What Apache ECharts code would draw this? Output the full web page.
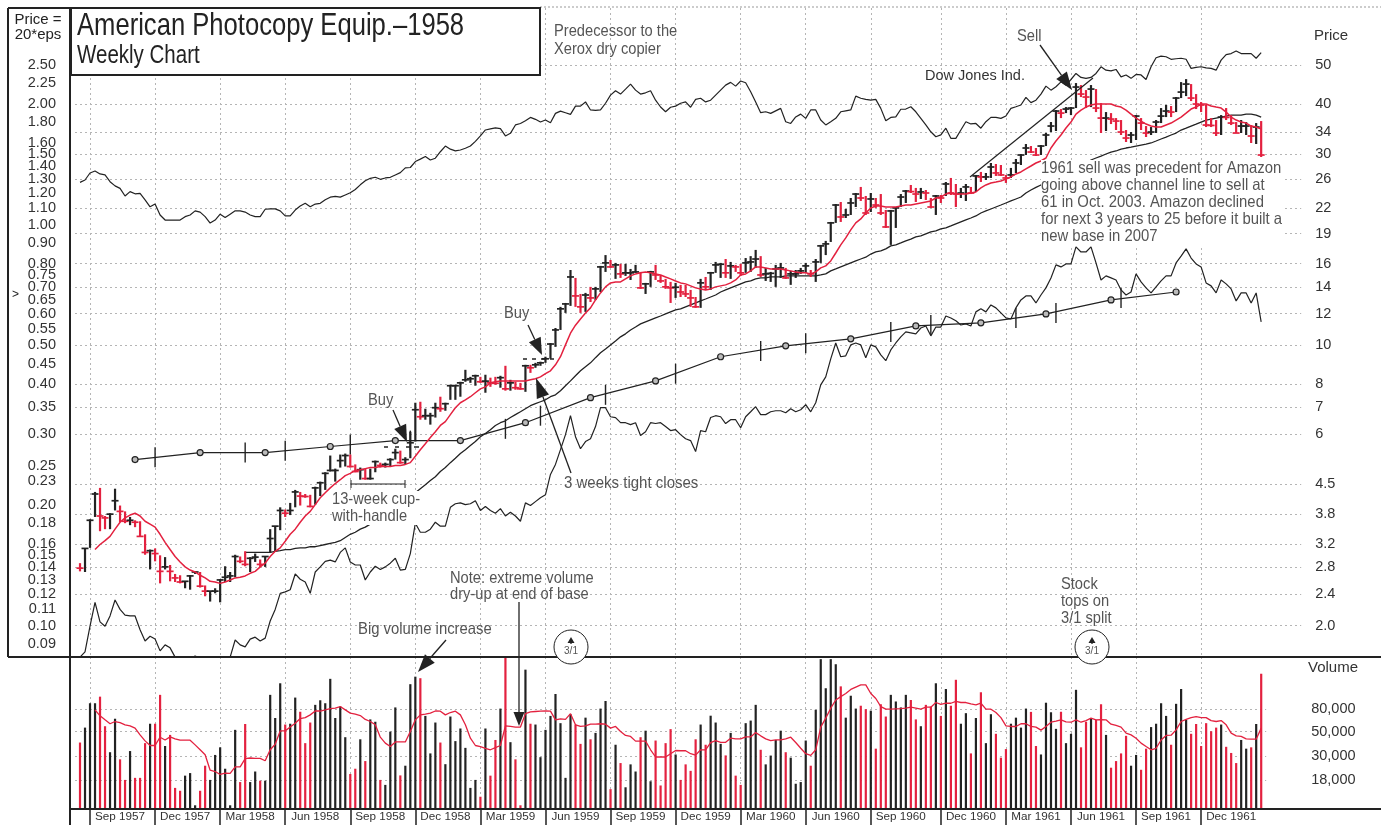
<!DOCTYPE html>
<html>
<head>
<meta charset="utf-8">
<title>American Photocopy Equip. 1958</title>
<script src="https://cdn.jsdelivr.net/npm/echarts@6/dist/echarts.min.js"></script>
<style>
  html, body { margin: 0; padding: 0; background: #fff; }
  #chart { width: 1381px; height: 825px; }
</style>
</head>
<body>
<div id="chart"></div>
<script>
// ---------------- data ----------------

// weekly bars, in price (price = 20*eps)
const highs = [
  2.83,3.08,3.64,4.26,4.36,3.71,3.77,4.34,3.94,3.81,
  3.69,3.62,3.60,3.34,3.06,3.08,2.96,2.93,2.80,2.66,
  2.64,2.54,2.64,2.70,2.69,2.49,2.41,2.45,2.58,2.78,
  2.69,2.97,2.94,3.03,2.93,2.99,2.89,2.94,3.44,3.50,
  3.90,3.85,4.00,4.31,4.26,4.21,4.19,4.39,4.52,4.77,
  5.25,4.87,5.28,5.31,5.28,4.99,4.90,4.87,4.87,5.10,
  5.04,5.04,5.17,5.46,5.40,5.20,6.02,7.11,7.15,6.87,
  6.71,7.11,7.36,7.11,7.88,7.88,8.02,8.59,8.25,8.35,
  8.25,8.35,8.21,8.25,8.30,8.79,8.11,8.02,7.97,8.84,
  8.84,8.94,9.00,9.26,10.02,10.92,12.33,12.61,15.24,14.56,
  13.28,13.36,13.83,13.83,15.60,16.6,16.14,15.87,15.78,15.78,
  15.33,15.69,15.07,14.15,15.16,15.69,14.81,14.48,14.23,14.15,
  13.99,13.99,13.59,13.05,14.48,14.64,15.07,15.96,15.87,16.23,
  15.96,15.69,15.78,16.32,16.5,17.10,16.5,15.42,15.07,15.69,
  15.87,15.42,15.16,15.24,15.42,15.87,15.24,16.23,17.6,18.01,
  20.08,22.26,22.52,21.63,23.04,23.71,24.55,23.31,23.71,23.04,
  23.57,21.51,21.51,21.88,23.57,24.12,24.83,24.41,24.41,24.12,
  23.04,23.44,23.44,25.26,25.85,24.97,24.41,24.97,24.55,26.3,
  26.76,26.6,28.17,28.01,27.85,26.3,27.38,28.82,29.66,31.41,
  31.05,30.7,31.23,33.46,35.64,38.18,38.4,38.84,38.84,44.58,
  44.07,42.82,44.07,43.07,39.74,37.74,37.52,36.46,36.05,34.04,
  33.65,37.09,36.46,34.83,34.63,36.05,38.62,39.3,39.07,41.14,
  44.83,45.6,44.32,41.85,39.97,39.3,36.46,36.05,37.09,38.62,
  37.09,35.64,36.05,35.64,35.03,35.43,35.84
];
const lows = [
  2.70,2.69,3.09,3.69,3.40,3.44,3.44,3.83,3.58,3.56,
  3.52,3.48,3.30,2.97,2.73,2.86,2.52,2.73,2.55,2.54,
  2.52,2.45,2.43,2.66,2.46,2.34,2.27,2.38,2.26,2.54,
  2.54,2.61,2.83,2.78,2.69,2.85,2.77,2.77,3.01,3.03,
  3.42,3.69,3.73,3.90,3.94,4.12,3.90,3.96,4.16,4.31,
  4.79,4.52,4.90,4.93,4.90,4.77,4.57,4.57,4.57,4.77,
  4.90,4.90,4.93,5.13,5.01,4.99,5.17,5.69,6.45,6.45,
  6.27,6.53,6.75,6.79,7.23,7.23,7.36,8.02,7.97,7.84,
  7.97,7.53,7.79,7.88,7.75,7.62,7.62,7.66,7.66,7.57,
  8.44,8.69,8.79,8.94,9.15,9.80,10.80,11.91,12.40,12.33,
  11.91,11.98,12.68,12.83,13.43,15.07,15.42,14.48,14.56,14.73,
  14.39,14.99,13.67,13.28,13.83,14.39,14.15,13.67,12.61,12.98,
  13.05,13.05,12.33,12.26,12.26,13.59,13.59,14.99,14.56,14.56,
  14.48,15.07,14.73,14.99,15.07,15.42,14.64,14.31,14.23,13.83,
  14.56,14.48,13.99,14.56,14.90,14.99,14.64,14.23,15.87,16.6,
  17.9,19.97,20.08,20.54,20.90,21.88,22.65,20.90,21.26,21.76,
  20.90,19.40,17.6,19.40,21.88,22.39,23.71,22.52,22.91,22.78,
  21.76,20.90,22.39,23.31,23.44,21.88,23.04,22.65,23.57,23.85,
  25.26,25.55,25.85,26.15,26.15,25.12,25.85,26.6,27.85,29.49,
  29.83,29.32,29.49,31.05,33.65,33.85,36.46,37.52,37.09,38.62,
  41.14,38.62,38.84,37.74,33.46,33.85,35.23,34.04,33.08,31.78,
  31.6,32.14,34.04,32.7,33.08,33.46,35.43,36.67,36.67,37.74,
  40.9,41.37,40.2,38.4,37.74,34.63,34.63,32.89,33.08,36.05,
  35.03,33.46,33.46,33.08,31.6,31.41,29.16
];
const closes = [
  2.75,3.08,3.62,4.21,3.71,3.67,3.75,4.05,3.81,3.60,
  3.62,3.58,3.30,3.01,3.04,2.99,2.70,2.77,2.70,2.60,
  2.54,2.55,2.63,2.69,2.48,2.41,2.41,2.41,2.57,2.61,
  2.63,2.94,2.86,2.81,2.91,2.93,2.81,2.94,3.26,3.50,
  3.83,3.77,3.83,4.26,4.16,4.15,3.92,4.36,4.49,4.74,
  4.82,4.82,5.10,5.25,4.93,4.79,4.84,4.60,4.60,5.07,
  4.96,4.99,5.13,5.34,5.04,5.13,5.65,6.83,6.56,6.60,
  6.60,6.91,6.87,7.07,7.84,7.84,7.97,8.11,8.16,8.30,
  8.02,8.05,7.97,7.95,8.21,7.70,7.97,7.75,7.70,8.79,
  8.69,8.84,8.94,9.15,9.96,10.80,12.19,12.54,14.64,13.13,
  12.33,13.20,12.98,13.67,15.51,15.87,15.51,15.69,14.90,14.99,
  14.99,15.07,13.75,14.07,15.07,14.81,14.31,13.83,13.75,13.8,
  13.43,13.28,12.98,12.33,14.15,13.83,14.99,15.69,15.75,14.99,
  15.60,15.51,14.99,15.87,15.96,16.23,14.81,14.90,14.95,15.33,
  15.42,14.56,14.90,14.90,15.16,15.60,14.90,15.96,17.5,17.7,
  19.97,22.13,20.66,20.90,22.39,23.57,23.04,21.14,22.91,22.13,
  21.14,19.51,21.39,21.76,23.17,23.98,23.9,23.57,23.85,23.71,
  21.88,23.31,23.04,24.97,23.71,23.57,23.71,24.55,23.71,26.15,
  26.0,26.0,27.53,26.6,26.3,25.85,26.3,28.17,29.49,30.7,
  30.0,29.49,31.05,33.08,34.83,37.96,37.52,38.4,38.62,43.57,
  41.85,41.14,43.07,38.62,36.46,36.46,36.25,35.84,33.65,32.51,
  33.08,36.88,35.43,33.46,33.65,35.64,36.88,37.96,37.74,40.9,
  42.33,44.32,40.9,39.52,39.3,35.03,34.95,33.46,36.67,36.6,
  35.43,33.46,34.83,34.83,32.89,34.63,29.49
];

// 10-week price line (red), starts at week 3
const redAverage = [
  null,null,null,3.06,3.15,3.22,3.30,3.44,3.58,3.67,
  3.73,3.77,3.71,3.60,3.54,3.48,3.34,3.19,3.06,2.94,
  2.85,2.77,2.72,2.69,2.64,2.60,2.55,2.54,2.52,2.54,
  2.57,2.60,2.61,2.63,2.67,2.70,2.77,2.83,2.94,3.03,
  3.09,3.21,3.34,3.44,3.58,3.71,3.81,3.96,4.12,4.24,
  4.36,4.47,4.57,4.68,4.74,4.82,4.84,4.87,4.90,4.90,
  4.93,4.93,4.93,4.96,4.96,4.99,5.04,5.23,5.43,5.62,
  5.82,6.02,6.24,6.38,6.64,6.91,7.11,7.23,7.36,7.53,
  7.70,7.79,7.97,8.02,8.06,8.06,8.06,8.06,8.06,8.06,
  8.11,8.16,8.25,8.40,8.54,8.84,9.26,9.91,10.6,11.1,
  11.5,11.9,12.26,12.83,13.36,13.83,14.15,14.23,14.23,14.48,
  14.73,14.90,14.99,15.07,14.99,14.90,14.81,14.64,14.48,14.31,
  14.15,14.07,13.91,13.75,13.67,13.59,13.67,13.83,13.91,13.99,
  14.15,14.39,14.81,14.90,15.16,15.51,15.51,15.42,15.33,15.33,
  15.33,15.24,15.16,15.07,14.99,14.99,14.90,15.07,15.42,15.60,
  16.05,16.8,17.6,18.32,19.18,19.97,20.43,21.14,21.76,22.01,
  22.01,21.88,21.88,21.88,22.01,22.13,22.13,22.26,22.39,22.52,
  22.65,23.04,23.17,23.57,23.71,23.57,23.57,23.57,23.71,23.85,
  24.41,24.83,25.12,25.26,25.41,25.7,26.0,26.45,26.76,27.22,
  27.69,28.17,28.5,28.99,30.7,31.96,33.08,34.43,35.64,37.31,
  38.18,38.84,39.3,39.52,39.52,39.52,39.52,39.07,38.84,38.18,
  37.31,36.46,35.84,35.23,34.83,34.63,34.63,35.03,35.43,36.05,
  36.67,37.52,38.4,38.84,39.52,39.52,39.07,38.84,38.62,37.74,
  36.67,36.05,35.64,35.43,34.83,34.63,34.24
];

// 30-week price line (black), starts at week 33
const blackAverage = [
  null,null,null,null,null,null,null,null,null,null,
  null,null,null,null,null,null,null,null,null,null,
  null,null,null,null,null,null,null,null,null,null,
  null,null,null,3.01,3.01,3.01,3.01,3.01,3.01,3.03,
  3.04,3.06,3.06,3.08,3.09,3.09,3.11,3.11,3.13,3.15,
  3.17,3.19,3.22,3.28,3.34,3.38,3.44,3.48,3.54,3.58,
  3.67,3.73,3.81,3.87,3.96,4.07,4.16,4.24,4.34,4.44,
  4.55,4.65,4.79,4.90,5.04,5.17,5.31,5.43,5.56,5.69,
  5.85,5.96,6.09,6.24,6.34,6.41,6.53,6.64,6.75,6.87,
  6.99,7.07,7.15,7.23,7.36,7.44,7.62,7.84,8.06,8.30,
  8.54,8.74,8.94,9.21,9.47,9.68,9.91,10.14,10.38,10.56,
  10.80,10.98,11.18,11.31,11.44,11.57,11.70,11.84,11.98,12.12,
  12.19,12.33,12.47,12.61,12.76,12.90,13.05,13.20,13.43,13.59,
  13.75,13.91,14.07,14.23,14.31,14.48,14.56,14.56,14.64,14.64,
  14.64,14.73,14.73,14.73,14.73,14.73,14.73,14.73,14.81,14.90,
  15.16,15.33,15.51,15.69,15.87,16.05,16.23,16.4,16.7,16.9,
  17.0,17.2,17.5,17.6,17.8,18.01,18.2,18.43,18.53,18.74,
  18.96,19.07,19.29,19.40,19.62,19.85,20.08,20.31,20.54,20.78,
  21.14,21.39,21.63,21.88,22.13,22.39,22.65,22.91,23.17,23.71,
  24.12,24.48,24.83,25.12,25.55,25.85,26.3,26.6,27.06,27.38,
  27.85,28.17,28.66,28.99,29.32,29.66,30.0,30.18,30.52,30.7,
  30.87,31.05,31.23,31.41,31.6,31.96,32.33,32.7,33.08,33.46,
  34.04,34.43,34.83,35.23,35.64,36.05,36.25,36.46,36.67,36.88,
  37.09,37.09,37.09,37.31,37.31,37.09,36.67
];

// Dow Jones Ind., plotted on the same price scale
const dowLine = [
  25.2,25.55,26.6,26.9,26.45,26.3,25.3,24.7,24.35,23.3,
  23.9,23.6,23.65,22.8,21.9,22.25,20.9,20.3,20.3,20.3,
  20.3,20.7,20.9,21.4,21.25,20.7,19.95,20.3,21.0,20.6,
  21.0,21.4,21.4,21.25,20.9,20.7,20.7,21.6,21.65,21.65,
  21.4,20.8,20.8,21.5,22.0,22.35,21.9,22.25,22.35,22.8,
  23.15,23.25,23.15,23.45,23.75,24.2,24.85,25.45,25.8,25.95,
  25.65,25.85,25.95,26.3,26.65,27.4,27.45,28.4,28.8,29.25,
  28.65,28.95,30.05,31.05,30.5,30.2,30.35,30.65,31.05,31.9,
  32.9,34.05,34.25,34.45,34.3,32.9,33.4,35.05,35.35,35.9,
  36.6,36.2,35.65,36.05,35.5,37.45,37.95,37.6,37.25,39.05,
  39.05,40.0,38.2,38.1,38.2,39.7,41.6,42.65,41.85,43.05,
  44.3,42.8,41.85,42.15,42.65,40.4,38.85,37.8,38.8,39.05,
  39.7,40.0,38.8,40.6,40.85,40.0,40.4,41.6,42.8,44.05,
  44.75,43.8,45.1,44.65,42.4,40.0,37.6,37.8,37.45,38.0,
  38.55,35.7,35.35,36.7,37.3,36.4,38.2,38.2,36.05,35.05,
  35.7,36.4,37.8,38.0,38.2,41.35,40.85,40.6,40.4,40.6,
  38.55,35.9,36.6,36.7,38.35,38.4,38.9,37.8,36.4,35.05,
  33.7,32.75,33.1,34.4,32.45,32.45,34.05,35.7,35.25,35.35,
  34.4,35.7,36.6,36.6,36.4,36.9,38.55,38.9,39.3,41.05,
  39.85,40.4,41.85,43.8,42.8,43.65,44.9,44.05,45.5,47.1,
  46.05,45.8,46.05,47.1,48.95,48.0,47.8,48.2,46.2,46.7,
  45.8,46.85,46.7,45.5,48.95,51.55,52.05,51.85,51.1,51.25,
  51.4,51.1,48.5,48.8,48.95,48.65,48.5,48.0,50.85,52.5,
  52.8,53.6,52.8,52.8,52.8,51.4,53.1
];

// relative strength line, runs off the bottom of the pane early on
const rsLine = [
  1.65,1.70,1.97,2.26,2.02,1.97,2.09,2.29,2.17,2.10,
  2.09,2.09,1.93,1.81,1.86,1.83,1.71,1.77,1.74,1.65,
  1.62,1.62,1.64,1.66,1.64,1.61,1.59,1.57,1.57,1.60,
  1.65,1.82,1.77,1.75,1.83,1.85,1.81,1.84,2.03,2.17,
  2.38,2.40,2.43,2.66,2.58,2.54,2.38,2.69,2.77,2.86,
  2.88,2.85,3.01,3.09,2.85,2.80,2.80,2.57,2.69,2.78,
  2.73,2.77,2.83,2.91,2.72,2.73,2.99,3.56,3.38,3.38,
  3.44,3.58,3.50,3.50,3.90,3.98,4.00,3.96,3.98,4.05,
  3.83,3.92,3.83,3.77,3.87,3.71,3.79,3.71,3.60,4.00,
  3.94,4.03,4.12,4.19,4.71,4.99,5.43,5.92,6.60,5.85,
  5.46,5.69,5.78,6.20,6.91,6.91,6.56,6.53,6.34,6.34,
  6.27,6.34,5.89,6.02,6.34,6.31,6.34,6.20,6.06,6.09,
  5.92,5.78,5.72,5.37,6.06,6.02,6.53,6.60,6.56,6.31,
  6.45,6.45,6.16,6.56,6.75,6.95,6.64,6.64,6.75,6.79,
  6.79,6.71,6.87,6.75,6.83,7.03,6.75,7.11,7.88,8.25,
  9.15,10.02,9.26,9.31,9.91,10.02,9.91,9.21,9.91,9.80,
  9.36,9.05,9.63,10.02,10.38,10.68,10.62,10.56,10.92,11.05,
  10.44,10.98,10.98,11.70,11.57,11.38,11.11,11.18,11.05,11.98,
  12.19,11.98,12.47,12.26,11.91,11.57,11.5,12.26,12.83,13.13,
  13.13,12.61,13.20,13.75,14.56,15.69,15.51,15.78,15.78,17.4,
  16.9,16.9,17.4,15.87,14.39,14.73,14.56,14.39,13.59,13.20,
  13.43,14.90,14.23,13.75,13.36,13.83,14.31,14.73,14.73,15.87,
  16.5,17.2,16.32,15.78,15.51,14.15,13.91,13.36,14.39,14.07,
  13.67,12.76,13.36,13.36,12.61,13.36,11.31
];

// quarterly knots and year marks of the long slow line
const knotWeeks = [11,24,37,50,63,76,89,102,115,128,141,154,167,180,193,206,219];
const knotValues = [5.13,5.34,5.34,5.53,5.72,5.72,6.34,7.32,8.06,9.26,9.86,10.26,11.05,11.25,11.84,12.83,13.43];
const markWeeks = [15,33,41,54,66,85,92,105,119,136,145,162,170,187,195,208];
const markValues = [5.2,5.34,5.40,5.59,5.72,6.12,6.60,7.44,8.40,9.57,10.0,10.68,11.11,11.57,11.91,12.98];

// weekly volume, in thousands of shares
const volumes = [
  39.8,54.4,90.6,90.6,104,56,32.5,65.5,28,18.2,
  33.3,19,19,39.3,59,59,108,37,46.7,15.4,
  14.5,19.9,21,10.7,14.5,24.5,18.2,30.7,36,23,
  10.7,51.9,17.4,58.7,17.4,21.7,17.9,17.9,108,66.5,
  137.6,58,59,102,75.8,39.3,60.5,87.6,96.4,90.6,
  151,66.5,84.5,44.5,20.6,23,42.6,27,64.6,61.5,
  18.2,16.4,50,83,20,24.5,135,158,153,69.5,
  31.7,60.5,39.8,25.3,68.6,41,53.4,35.6,15.4,18.2,
  12.8,53.4,19.9,42,81,235,40.1,28,10.7,183,
  59,58,29.3,51.9,69.5,110,59.7,19,72,58,
  38.7,67,42.6,48.7,81,95,15,38,25.9,15.6,
  25.2,21.7,44.5,51,17.7,41.5,16.2,39.3,52.7,31,
  18.2,25.2,22,42.6,58,38,69.8,60.5,38.7,30.4,
  48.7,19.9,16.4,59.7,63,87.6,34.2,25.2,30.3,42,
  51,32.5,29,16.8,17.4,41.5,24.5,78.9,228,124,
  228,205,129,67,106,81,86,80,77.6,35,
  88.7,68.6,108,94,83,108,97,64.6,56,87.6,
  84.5,137.6,69.5,122,86,148,59,73.6,31.7,66.5,
  114,39.3,72,47.8,29,34.7,59,67,54.4,81,
  75.6,37,31,91.6,75,53,75.8,39.3,47.8,120,
  36,61.5,66.5,64,88.7,46.7,23.5,27,31.7,45.8,
  24.5,30.7,22.5,35,55,59,90.6,69.5,38,89.5,
  122,64,47.8,58.7,37,59.7,50.4,54.4,58,36.4,
  32,25.9,42,35,36,58.7,168
];
// 10-week volume line, starts at week 3
const volumeAverage = [
  null,null,null,78.9,69.6,64,59,61.8,60.4,57.7,
  56.4,53.8,46.7,41.2,37.4,37.4,44.5,42,44.8,43,
  41.8,41.8,41.8,37.9,34.2,30.8,22.3,21.7,20.4,21,
  20.9,23.9,23.9,28.4,28.8,28.6,28.6,27.2,34.2,38.4,
  50.8,50.8,55,59.7,65.8,67,71,77,77,78.9,
  81,81.7,84.5,78.9,73.6,72,70,64.6,61.8,57.7,
  44.5,39.3,36.6,40.3,40.3,40.3,50.1,64,71,72,
  73.6,77,76.7,71,74.6,76.7,71,57.7,43.6,37.4,
  36.6,35.3,34.2,35.8,37.4,56.4,55.7,55,55,72.8,
  75.6,76.2,76.7,77,76.7,64,65.3,64.6,72.8,57.7,
  55.7,56.4,58.4,58.4,59,58.4,53.8,55.7,50.1,46.2,
  45.2,41,41,41,34.2,29.4,29.4,29.4,31.5,33.7,
  33.5,33.5,31.5,30.6,34.2,34.2,39.8,41.4,40,40,
  43.6,43,43,44.8,44.8,49,45.8,43,41.4,42,
  42,43,44.5,39.8,35.3,31.5,30.4,34.2,55,66.3,
  81.7,97,104,111,121,127,133,133,111,100,
  84.5,80,80,80.5,81,81.7,83.4,81.7,80,83.4,
  83.4,92,88.6,90.6,90.6,94,92,92,89.3,87.5,
  90.6,80,80,74.6,67,56.4,55.7,55.7,59,59,
  55.7,55,51.6,55.7,60.9,62.4,64,61.3,60.9,64,
  60.9,63,66.3,64,64.4,64,58.4,56.9,55,48.4,
  46.7,43.6,39.3,36.6,34.2,35.3,42,46.2,46.4,51.9,
  61.8,64.6,67,68.6,67,67,63,61.8,63,57.7,
  48.4,45.8,45.2,43,42.7,42.7,53.8
];

// axis ticks
const priceTicks = [50,40,34,30,26,22,19,16,14,12,10,8,7,6,4.5,3.8,3.2,2.8,2.4,2];
const priceTickLabels = ["50","40","34","30","26","22","19","16","14","12","10","8","7","6","4.5","3.8","3.2","2.8","2.4","2.0"];
const epsTicks = [2.5,2.25,2,1.8,1.6,1.5,1.4,1.3,1.2,1.1,1,0.9,0.8,0.75,0.7,0.65,0.6,0.55,0.5,0.45,0.4,0.35,0.3,0.25,0.23,0.2,0.18,0.16,0.15,0.14,0.13,0.12,0.11,0.1,0.09];
const volumeTicks = [80,50,30,18];
const volumeTickLabels = ["80,000","50,000","30,000","18,000"];
const quarterWeeks = [2,15,28,41,54,67,80,93,106,119,132,145,158,172,185,198,211,224];
const quarterLabelWeeks = [8,21,34,47,60,73,86,99,112,125,138,151,164,178,191,204,217,230];
const quarterLabels = ["Sep 1957","Dec 1957","Mar 1958","Jun 1958","Sep 1958","Dec 1958","Mar 1959","Jun 1959","Sep 1959","Dec 1959","Mar 1960","Jun 1960","Sep 1960","Dec 1960","Mar 1961","Jun 1961","Sep 1961","Dec 1961"];

// ---------------- helpers ----------------

const BLACK = "#222";
const RED = "#e3213f";
const GREY = "#555";
const SANS = '"Liberation Sans", Arial, sans-serif';

const weekColor = (i) => (i === 0 || closes[i] < closes[i - 1] ? RED : BLACK);
const nearestLabel = (ticks, labels) => (v) => {
  let best = 0;
  ticks.forEach((t, k) => { if (Math.abs(t - v) < Math.abs(ticks[best] - v)) best = k; });
  return labels[best];
};
// one blank week each side so the first and last bars don't touch the pane edge
const shifted = (arr) => [null].concat(arr);

const quarterSet = new Set(quarterWeeks.map((w) => w + 1));
const labelMap = new Map(quarterLabelWeeks.map((w, k) => [w + 1, quarterLabels[k]]));
const volumeCats = [""].concat(highs.map((v, i) => "w" + i), [""]);
const priceCats = volumeCats.concat(["", "", "", "", "", "", ""]);

// vertical + close tick for one week
function renderWeek(params, api) {
  const x = api.value(0);
  const top = api.coord([x, api.value(1)]);
  const bottom = api.coord([x, api.value(2)]);
  const close = api.coord([x, api.value(3)]);
  const color = weekColor(params.dataIndex);
  return {
    type: "group",
    children: [
      { type: "line", shape: { x1: top[0], y1: top[1], x2: bottom[0], y2: bottom[1] }, style: { stroke: color, lineWidth: 2.2 } },
      { type: "line", shape: { x1: close[0] - 3.5, y1: close[1], x2: close[0] + 3.5, y2: close[1] }, style: { stroke: color, lineWidth: 1.7 } },
    ],
  };
}

// ---------------- annotations ----------------

const Z = 50;
function lineEl(x1, y1, x2, y2, width, color, dash) {
  return { type: "line", z: Z, shape: { x1, y1, x2, y2 }, style: { stroke: color || BLACK, lineWidth: width || 1, lineDash: dash } };
}
// no narrow face is installed, so the condensed type is squeezed with scaleX
function textEl(x, y, text, size, squeeze, style) {
  return {
    type: "text", z: Z + 2, x, y, scaleX: squeeze || 1,
    style: Object.assign({ text, font: size + "px " + SANS, fill: GREY, lineHeight: size > 20 ? size * 1.15 : 17, verticalAlign: "top" }, style),
  };
}
function arrowEls(x1, y1, x2, y2, headLen, headWidth) {
  const d = Math.hypot(x2 - x1, y2 - y1);
  const ux = (x2 - x1) / d, uy = (y2 - y1) / d;
  const bx = x2 - ux * headLen, by = y2 - uy * headLen;
  return [
    lineEl(x1, y1, bx, by, 1.3),
    { type: "polygon", z: Z, shape: { points: [[x2, y2], [bx - uy * headWidth / 2, by + ux * headWidth / 2], [bx + uy * headWidth / 2, by - ux * headWidth / 2]] }, style: { fill: BLACK } },
  ];
}
function splitMark(cx) {
  return [
    { type: "circle", z: Z, shape: { cx, cy: 647, r: 17 }, style: { fill: "#fff", stroke: BLACK, lineWidth: 1 } },
    ...arrowEls(cx, 644, cx, 637, 6, 7),
    { type: "text", z: Z + 1, x: cx, y: 651, style: { text: "3/1", font: "10px " + SANS, fill: GREY, align: "center", verticalAlign: "middle" } },
  ];
}

const annotations = [
  // frame
  lineEl(8, 8, 8, 657, 2), lineEl(70, 8, 70, 825, 2), lineEl(8, 657, 1381, 657, 2),
  lineEl(8, 8, 71, 8, 2), lineEl(70, 809, 1381, 809, 2), lineEl(540, 7, 1381, 7, 1, "#999", [2, 2]),
  // title box
  { type: "rect", z: Z + 1, shape: { x: 71, y: 8, width: 469, height: 67 }, style: { fill: "#fff", stroke: BLACK, lineWidth: 2 } },
  textEl(77, 8, "American Photocopy Equip.\u20131958", 32, 0.8, { fill: BLACK }),
  textEl(77, 42, "Weekly Chart", 25, 0.82, { fill: BLACK }),
  textEl(38, 12, "Price =\n20*eps", 15, 1, { align: "center", fill: BLACK, lineHeight: 15 }),
  textEl(12, 286, ">", 12, 1, { fill: BLACK }),
  textEl(1314, 27, "Price", 15, 1, { fill: "#333" }),
  textEl(1308, 659, "Volume", 15, 1, { fill: "#333" }),
  // notes
  textEl(554, 22, "Predecessor to the\nXerox dry copier", 16.5, 0.89, { lineHeight: 18 }),
  textEl(925, 67, "Dow Jones Ind.", 14.5, 1, { fill: "#333" }),
  textEl(1017, 28, "Sell", 16.5, 0.89),
  textEl(368, 392, "Buy", 16.5, 0.89),
  textEl(504, 305, "Buy", 16.5, 0.89),
  textEl(332, 491, "13-week cup-\nwith-handle", 16.5, 0.89, { backgroundColor: "#fff" }),
  textEl(564, 475, "3 weeks tight closes", 16.5, 0.91),
  textEl(358, 621, "Big volume increase", 16.5, 0.9),
  textEl(450, 570, "Note: extreme volume\ndry-up at end of base", 16.5, 0.89, { lineHeight: 16.5 }),
  textEl(1061, 576, "Stock\ntops on\n3/1 split", 16.5, 0.89),
  textEl(1041, 160, "1961 sell was precedent for Amazon\ngoing above channel line to sell at\n61 in Oct. 2003. Amazon declined\nfor next 3 years to 25 before it built a\nnew base in 2007", 16.5, 0.9, { backgroundColor: "#fff" }),
  // arrows
  ...arrowEls(393, 410, 407, 442, 17, 13),
  ...arrowEls(528, 325, 542, 355, 17, 13),
  ...arrowEls(1040, 45, 1072, 90, 18, 13),
  ...arrowEls(571, 473, 536, 378, 20, 13),
  ...arrowEls(446, 640, 418, 672, 18, 13),
  ...arrowEls(519, 602, 519, 726, 14, 11),
  // channel line
  lineEl(970, 177, 1093, 78, 1.2),
  // tight close dashes
  lineEl(384, 447, 388, 447, 1.5), lineEl(395, 447, 399, 447, 1.5), lineEl(406, 447, 410, 447, 1.5), lineEl(414, 447, 419, 447, 1.5),
  lineEl(523, 359, 527, 359, 1.5), lineEl(532, 359, 536, 359, 1.5), lineEl(541, 359, 545, 359, 1.5), lineEl(550, 359, 554, 359, 1.5),
  // 13-week bracket
  lineEl(351, 484, 405, 484, 1), lineEl(351, 480, 351, 488, 1), lineEl(405, 480, 405, 488, 1),
  // stock splits
  ...splitMark(571), ...splitMark(1092),
];

// ---------------- chart ----------------

const chartDom = document.getElementById("chart");
const myChart = echarts.init(chartDom);

const dotted = { show: true, lineStyle: { color: "#b5b5b5", width: 1, type: [2, 3] } };
const quarterLine = Object.assign({}, dotted, { interval: (i) => quarterSet.has(i) });

const option = {
  animation: false,
  backgroundColor: "#fff",
  graphic: annotations,
  grid: [
    { left: 75, top: 8, width: 1226.2, height: 649 },
    { left: 75, top: 657, width: 1191.2, height: 152 },
  ],
  xAxis: [
    {
      type: "category", gridIndex: 0, data: priceCats, boundaryGap: false,
      axisLine: { show: false }, axisTick: { show: false }, axisLabel: { show: false },
      splitLine: quarterLine,
    },
    {
      type: "category", gridIndex: 1, data: volumeCats, boundaryGap: false,
      axisLine: { show: false },
      axisTick: { show: true, length: 16, interval: (i) => quarterSet.has(i), lineStyle: { color: BLACK, width: 1.5 } },
      axisLabel: {
        interval: (i) => labelMap.has(i), formatter: (v, i) => labelMap.get(i) || "",
        color: "#333", fontFamily: SANS, fontSize: 11.7, margin: 2,
      },
      splitLine: quarterLine,
    },
  ],
  yAxis: [
    {
      // price scale the marks are read against (bars sit 2px above the printed grid)
      type: "log", logBase: 10, gridIndex: 0, position: "right", min: 1.651, max: 68.6,
      axisLine: { show: false },
      axisTick: { show: false },
      splitLine: { show: false },
      axisLabel: { show: false },
    },
    {
      // eps scale (price / 20), labelled on the left
      type: "log", logBase: 10, gridIndex: 0, position: "left", min: 1.67 / 20, max: 69.4 / 20,
      axisLine: { show: false },
      axisTick: { show: false, customValues: epsTicks },
      splitLine: { show: false },
      axisLabel: {
        customValues: epsTicks, formatter: (v) => v.toFixed(2),
        color: "#333", fontFamily: SANS, fontSize: 14.5, margin: 19, align: "right",
      },
    },
    {
      // printed price grid and right hand labels
      type: "log", logBase: 10, gridIndex: 0, position: "right", min: 1.67, max: 69.4,
      axisLine: { show: false },
      axisTick: { show: false, customValues: priceTicks },
      splitLine: dotted,
      axisLabel: {
        customValues: priceTicks, formatter: nearestLabel(priceTicks, priceTickLabels),
        color: "#333", fontFamily: SANS, fontSize: 14.5, margin: 14, align: "left",
      },
    },
    {
      type: "log", logBase: 10, gridIndex: 1, position: "right", min: 9.9, max: 238.5,
      axisLine: { show: false },
      axisTick: { show: false, customValues: volumeTicks },
      splitLine: dotted,
      axisLabel: {
        customValues: volumeTicks, formatter: nearestLabel(volumeTicks, volumeTickLabels),
        color: "#333", fontFamily: SANS, fontSize: 14.5, margin: 45, align: "left",
      },
    },
  ],
  series: [
    { name: "Dow Jones Ind.", type: "line", data: shifted(dowLine), showSymbol: false, lineStyle: { color: BLACK, width: 1.2 }, z: 3 },
    { name: "RS", type: "line", data: shifted(rsLine), showSymbol: false, lineStyle: { color: BLACK, width: 1.2 }, z: 3 },
    { name: "30 week", type: "line", data: shifted(blackAverage), showSymbol: false, lineStyle: { color: BLACK, width: 1.3 }, z: 3 },
    {
      name: "slow line", type: "line", connectNulls: true, z: 3,
      data: knotWeeks.map((w, k) => [w + 1, knotValues[k]]),
      symbol: "circle", symbolSize: 6, showSymbol: true, showAllSymbol: true,
      itemStyle: { color: "#bbb", borderColor: BLACK, borderWidth: 1.2 },
      lineStyle: { color: BLACK, width: 1.2 },
    },
    {
      name: "year marks", type: "scatter", z: 3,
      data: markWeeks.map((w, k) => [w + 1, markValues[k]]),
      symbol: "rect", symbolSize: [1.4, 20], itemStyle: { color: BLACK, opacity: 1 },
    },
    {
      name: "weekly bars", type: "custom", renderItem: renderWeek, z: 4,
      data: highs.map((h, i) => [i + 1, h, lows[i], closes[i]]),
      encode: { x: 0, y: [1, 2, 3] },
    },
    { name: "10 week", type: "line", data: shifted(redAverage), showSymbol: false, lineStyle: { color: RED, width: 1.5 }, z: 5 },
    {
      name: "Volume", type: "bar", xAxisIndex: 1, yAxisIndex: 3, barWidth: 2.2, z: 3,
      data: shifted(volumes.map((v, i) => ({ value: v, itemStyle: { color: weekColor(i) } }))),
    },
    {
      name: "Volume average", type: "line", xAxisIndex: 1, yAxisIndex: 3, z: 5,
      data: shifted(volumeAverage), showSymbol: false, lineStyle: { color: RED, width: 1.3 },
    },
  ],
};

myChart.setOption(option);
</script>
</body>
</html>
